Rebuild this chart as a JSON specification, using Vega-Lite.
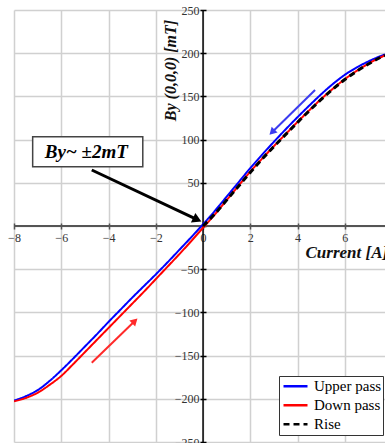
{
  "$schema": "https://vega.github.io/schema/vega-lite/v6.json",
  "width": 371,
  "height": 432,
  "autosize": {"type": "none"},
  "padding": {"left": 14, "top": 10, "right": 0, "bottom": 1},
  "background": "white",
  "config": {"view": {"stroke": null}},
  "datasets": {
    "curves": [
      {"series": "Upper pass", "current": -8, "by": -202},
      {"series": "Upper pass", "current": -7.5, "by": -197},
      {"series": "Upper pass", "current": -7, "by": -190},
      {"series": "Upper pass", "current": -6.5, "by": -179.5},
      {"series": "Upper pass", "current": -6, "by": -167},
      {"series": "Upper pass", "current": -5.5, "by": -153.5},
      {"series": "Upper pass", "current": -5, "by": -139.5},
      {"series": "Upper pass", "current": -4.5, "by": -125.5},
      {"series": "Upper pass", "current": -4, "by": -111},
      {"series": "Upper pass", "current": -3.5, "by": -97},
      {"series": "Upper pass", "current": -3, "by": -83},
      {"series": "Upper pass", "current": -2.5, "by": -69.5},
      {"series": "Upper pass", "current": -2, "by": -56},
      {"series": "Upper pass", "current": -1.5, "by": -42},
      {"series": "Upper pass", "current": -1, "by": -27.5},
      {"series": "Upper pass", "current": -0.5, "by": -13},
      {"series": "Upper pass", "current": 0, "by": 2},
      {"series": "Upper pass", "current": 0.5, "by": 17.5},
      {"series": "Upper pass", "current": 1, "by": 34},
      {"series": "Upper pass", "current": 1.5, "by": 50.5},
      {"series": "Upper pass", "current": 2, "by": 67},
      {"series": "Upper pass", "current": 2.5, "by": 82.5},
      {"series": "Upper pass", "current": 3, "by": 97.5},
      {"series": "Upper pass", "current": 3.5, "by": 112},
      {"series": "Upper pass", "current": 4, "by": 126},
      {"series": "Upper pass", "current": 4.5, "by": 139.5},
      {"series": "Upper pass", "current": 5, "by": 152.5},
      {"series": "Upper pass", "current": 5.5, "by": 164.5},
      {"series": "Upper pass", "current": 6, "by": 175},
      {"series": "Upper pass", "current": 6.5, "by": 183.5},
      {"series": "Upper pass", "current": 7, "by": 190.5},
      {"series": "Upper pass", "current": 7.5, "by": 196.5},
      {"series": "Upper pass", "current": 7.7, "by": 198.5},
      {"series": "Down pass", "current": -8, "by": -203},
      {"series": "Down pass", "current": -7.5, "by": -199},
      {"series": "Down pass", "current": -7, "by": -193},
      {"series": "Down pass", "current": -6.5, "by": -184},
      {"series": "Down pass", "current": -6, "by": -173.5},
      {"series": "Down pass", "current": -5.5, "by": -160},
      {"series": "Down pass", "current": -5, "by": -146},
      {"series": "Down pass", "current": -4.5, "by": -132},
      {"series": "Down pass", "current": -4, "by": -118},
      {"series": "Down pass", "current": -3.5, "by": -104},
      {"series": "Down pass", "current": -3, "by": -90},
      {"series": "Down pass", "current": -2.5, "by": -76},
      {"series": "Down pass", "current": -2, "by": -61.5},
      {"series": "Down pass", "current": -1.5, "by": -47},
      {"series": "Down pass", "current": -1, "by": -32.5},
      {"series": "Down pass", "current": -0.5, "by": -17.5},
      {"series": "Down pass", "current": 0, "by": -2},
      {"series": "Down pass", "current": 0.5, "by": 13.5},
      {"series": "Down pass", "current": 1, "by": 30},
      {"series": "Down pass", "current": 1.5, "by": 46.5},
      {"series": "Down pass", "current": 2, "by": 63},
      {"series": "Down pass", "current": 2.5, "by": 78},
      {"series": "Down pass", "current": 3, "by": 92.5},
      {"series": "Down pass", "current": 3.5, "by": 106.5},
      {"series": "Down pass", "current": 4, "by": 120.5},
      {"series": "Down pass", "current": 4.5, "by": 134},
      {"series": "Down pass", "current": 5, "by": 147},
      {"series": "Down pass", "current": 5.5, "by": 159},
      {"series": "Down pass", "current": 6, "by": 170},
      {"series": "Down pass", "current": 6.5, "by": 179.5},
      {"series": "Down pass", "current": 7, "by": 188},
      {"series": "Down pass", "current": 7.5, "by": 195},
      {"series": "Down pass", "current": 7.7, "by": 197.5},
      {"series": "Rise", "current": 0, "by": 0},
      {"series": "Rise", "current": 0.5, "by": 14},
      {"series": "Rise", "current": 1, "by": 30},
      {"series": "Rise", "current": 1.5, "by": 46},
      {"series": "Rise", "current": 2, "by": 62},
      {"series": "Rise", "current": 2.5, "by": 77.5},
      {"series": "Rise", "current": 3, "by": 92},
      {"series": "Rise", "current": 3.5, "by": 106},
      {"series": "Rise", "current": 4, "by": 120},
      {"series": "Rise", "current": 4.5, "by": 133.5},
      {"series": "Rise", "current": 5, "by": 146.5},
      {"series": "Rise", "current": 5.5, "by": 158.5},
      {"series": "Rise", "current": 6, "by": 169.5},
      {"series": "Rise", "current": 6.5, "by": 179},
      {"series": "Rise", "current": 7, "by": 187.5},
      {"series": "Rise", "current": 7.5, "by": 195},
      {"series": "Rise", "current": 7.7, "by": 197.5}
    ],
    "arrows": [
      {"name": "note", "x1": -4.71, "y1": 64.8, "x2": -0.245, "y2": 7.4},
      {"name": "upper", "x1": 4.74, "y1": 157.4, "x2": 2.92, "y2": 108.6},
      {"name": "down", "x1": -4.71, "y1": -158.2, "x2": -2.886, "y2": -110}
    ],
    "note": [
      {"label": "By~ ±2mT", "x1": -7.21, "x2": -2.55, "y1": 68.6, "y2": 103.4, "tx": -4.94, "ty": 86.2}
    ],
    "zero": [{"v": 0}]
  },
  "layer": [
    {
      "data": {"name": "zero"},
      "mark": {"type": "point", "opacity": 0},
      "encoding": {
        "x": {
          "field": "v", "type": "quantitative",
          "scale": {"domain": [-8, 7.7], "nice": false, "zero": false},
          "axis": {
            "title": "Current [A]",
            "values": [-8, -6, -4, -2, 0, 2, 4, 6],
            "offset": -219, "domain": false,
            "tickSize": 6, "tickColor": "#555", "tickWidth": 1.5,
            "labelExpr": "datum.value == 0 ? '\u00a0\u00a0\u00a00' : datum.label",
            "labelAlign": "center", "labelDx": 1.5, "labelBaseline": "top", "labelPadding": 3,
            "labelFlush": false, "labelOverlap": false,
            "labelFont": "Liberation Serif", "labelFontSize": 12, "labelColor": "#333",
            "grid": true, "gridColor": "#d0d0d0", "gridWidth": 1.5,
            "titleFont": "Liberation Serif", "titleFontSize": 17, "titleFontWeight": "bold", "titleFontStyle": "italic",
            "titleColor": "#111", "titleX": 291, "titleY": 34, "titleAlign": "left", "titleBaseline": "alphabetic"
          }
        },
        "y": {
          "field": "v", "type": "quantitative",
          "scale": {"domain": [-250, 250], "nice": false, "zero": false},
          "axis": {
            "title": "By (0,0,0) [mT]",
            "values": [-250, -200, -150, -100, -50, 0, 50, 100, 150, 200, 250],
            "offset": -192, "domain": false,
            "tickSize": 6, "tickColor": "#000", "tickWidth": 1.5,
            "labelPadding": 1, "labelFlush": false, "labelOverlap": false,
            "labelExpr": "datum.value == 0 ? '' : datum.label",
            "labelFont": "Liberation Serif", "labelFontSize": 12, "labelColor": "#333",
            "grid": true, "gridColor": "#d0d0d0", "gridWidth": 1.5,
            "titleFont": "Liberation Serif", "titleFontSize": 16, "titleFontWeight": "bold", "titleFontStyle": "italic",
            "titleColor": "#111", "titleX": -36, "titleY": 60, "titleAngle": -90, "titleAlign": "center", "titleBaseline": "middle"
          }
        }
      }
    },
    {
      "data": {"name": "zero"},
      "mark": {"type": "rule", "color": "#555", "strokeWidth": 2},
      "encoding": {"y": {"field": "v", "type": "quantitative"}}
    },
    {
      "data": {"name": "zero"},
      "mark": {"type": "rule", "color": "#000", "strokeWidth": 1.5},
      "encoding": {"x": {"field": "v", "type": "quantitative"}}
    },
    {
      "data": {"name": "curves"},
      "transform": [{"filter": "datum.series != 'Rise'"}],
      "mark": {"type": "line", "strokeWidth": 2, "interpolate": "monotone", "clip": true},
      "encoding": {
        "x": {"field": "current", "type": "quantitative"},
        "y": {"field": "by", "type": "quantitative"},
        "color": {
          "field": "series", "type": "nominal",
          "scale": {"domain": ["Upper pass", "Down pass", "Rise"], "range": ["#0000ff", "#ff0000", "#000000"]},
          "legend": {
            "title": null, "orient": "none", "legendX": 265, "legendY": 366,
            "fillColor": "white", "strokeColor": "#333", "padding": 1,
            "symbolType": "stroke", "symbolSize": 576, "symbolStrokeWidth": 2.5, "symbolOffset": 2,
            "clipHeight": 18.7, "rowPadding": 0, "labelOffset": 5,
            "labelFont": "Liberation Serif", "labelFontSize": 15, "labelColor": "#000"
          }
        },
        "strokeDash": {
          "field": "series", "type": "nominal",
          "scale": {"domain": ["Upper pass", "Down pass", "Rise"], "range": [[1, 0], [1, 0], [6, 4]]},
          "legend": {
            "title": null, "orient": "none", "legendX": 265, "legendY": 366,
            "fillColor": "white", "strokeColor": "#333", "padding": 1,
            "symbolType": "stroke", "symbolSize": 576, "symbolStrokeWidth": 2.5, "symbolOffset": 2,
            "clipHeight": 18.7, "rowPadding": 0, "labelOffset": 5,
            "labelFont": "Liberation Serif", "labelFontSize": 15, "labelColor": "#000"
          }
        }
      }
    },
    {
      "data": {"name": "curves"},
      "transform": [{"filter": "datum.series == 'Rise'"}],
      "mark": {"type": "line", "strokeWidth": 3, "interpolate": "monotone", "clip": true},
      "encoding": {
        "x": {"field": "current", "type": "quantitative"},
        "y": {"field": "by", "type": "quantitative"},
        "color": {"field": "series", "type": "nominal"},
        "strokeDash": {"field": "series", "type": "nominal"}
      }
    },
    {
      "data": {"name": "arrows"},
      "transform": [{"filter": "datum.name == 'note'"}],
      "layer": [
        {
          "mark": {"type": "rule", "color": "#000", "strokeWidth": 3},
          "encoding": {
            "x": {"field": "x1", "type": "quantitative"},
            "y": {"field": "y1", "type": "quantitative"},
            "x2": {"field": "x2"}, "y2": {"field": "y2"}
          }
        },
        {
          "mark": {"type": "point", "shape": "triangle-up", "filled": true, "color": "#000", "size": 110, "angle": 115, "opacity": 1},
          "encoding": {
            "x": {"field": "x2", "type": "quantitative"},
            "y": {"field": "y2", "type": "quantitative"}
          }
        }
      ]
    },
    {
      "data": {"name": "arrows"},
      "transform": [{"filter": "datum.name == 'upper'"}],
      "layer": [
        {
          "mark": {"type": "rule", "color": "#3b3bf0", "strokeWidth": 2},
          "encoding": {
            "x": {"field": "x1", "type": "quantitative"},
            "y": {"field": "y1", "type": "quantitative"},
            "x2": {"field": "x2"}, "y2": {"field": "y2"}
          }
        },
        {
          "mark": {"type": "point", "shape": "triangle-up", "filled": true, "color": "#3b3bf0", "size": 70, "angle": 225, "opacity": 1},
          "encoding": {
            "x": {"field": "x2", "type": "quantitative"},
            "y": {"field": "y2", "type": "quantitative"}
          }
        }
      ]
    },
    {
      "data": {"name": "arrows"},
      "transform": [{"filter": "datum.name == 'down'"}],
      "layer": [
        {
          "mark": {"type": "rule", "color": "#ff2a2a", "strokeWidth": 2},
          "encoding": {
            "x": {"field": "x1", "type": "quantitative"},
            "y": {"field": "y1", "type": "quantitative"},
            "x2": {"field": "x2"}, "y2": {"field": "y2"}
          }
        },
        {
          "mark": {"type": "point", "shape": "triangle-up", "filled": true, "color": "#ff2a2a", "size": 70, "angle": 46, "opacity": 1},
          "encoding": {
            "x": {"field": "x2", "type": "quantitative"},
            "y": {"field": "y2", "type": "quantitative"}
          }
        }
      ]
    },
    {
      "data": {"name": "note"},
      "layer": [
        {
          "mark": {"type": "rect", "fill": "white", "stroke": "#444", "strokeWidth": 1.5},
          "encoding": {
            "x": {"field": "x1", "type": "quantitative"},
            "x2": {"field": "x2"},
            "y": {"field": "y1", "type": "quantitative"},
            "y2": {"field": "y2"}
          }
        },
        {
          "mark": {"type": "text", "font": "Liberation Serif", "fontSize": 19, "fontWeight": "bold", "fontStyle": "italic", "color": "#000", "align": "center", "baseline": "middle"},
          "encoding": {
            "x": {"field": "tx", "type": "quantitative"},
            "y": {"field": "ty", "type": "quantitative"},
            "text": {"field": "label"}
          }
        }
      ]
    }
  ]
}
